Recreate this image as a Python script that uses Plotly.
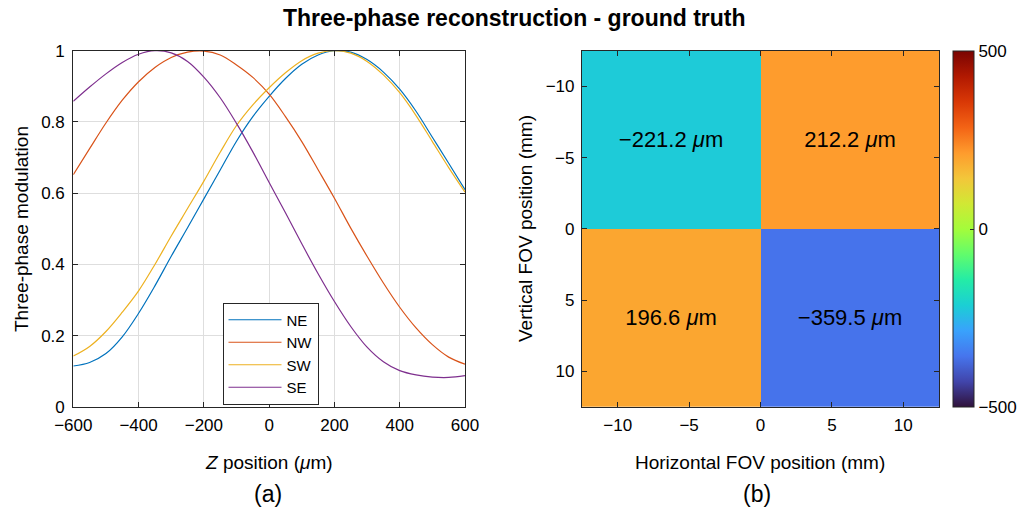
import plotly.graph_objects as go

# ---------------- data ----------------
z_pos = [-600, -550, -500, -450, -400, -350, -300, -250, -200, -150, -100, -50,
         0, 50, 100, 150, 200, 250, 300, 350, 400, 450, 500, 550, 600]

ne = [0.115, 0.125, 0.150, 0.197, 0.263, 0.340, 0.423, 0.503, 0.584, 0.665, 0.746, 0.815,
      0.872, 0.922, 0.962, 0.988, 1.000, 0.996, 0.975, 0.940, 0.892, 0.830, 0.757, 0.684, 0.610]
nw = [0.652, 0.725, 0.797, 0.861, 0.913, 0.953, 0.981, 0.996, 0.999, 0.988, 0.960, 0.925,
      0.878, 0.815, 0.745, 0.666, 0.586, 0.502, 0.423, 0.348, 0.280, 0.222, 0.175, 0.140, 0.120]
sw = [0.143, 0.170, 0.212, 0.266, 0.326, 0.400, 0.480, 0.557, 0.634, 0.715, 0.790, 0.848,
      0.896, 0.938, 0.972, 0.993, 1.000, 0.993, 0.970, 0.932, 0.882, 0.818, 0.745, 0.672, 0.603]
se = [0.858, 0.898, 0.935, 0.967, 0.990, 1.000, 0.994, 0.970, 0.926, 0.868, 0.796, 0.716,
      0.630, 0.545, 0.458, 0.374, 0.296, 0.226, 0.168, 0.127, 0.102, 0.090, 0.084, 0.083, 0.088]

series_names = ["NE", "NW", "SW", "SE"]
series_colors = ["#0072BD", "#D95319", "#EDB120", "#7E2F8E"]

fov_x = [-6.25, 6.25]
fov_y = [-6.25, 6.25]
recon = [[-221.2, 212.2],
         [196.6, -359.5]]

x_ticks_a = [-600, -400, -200, 0, 200, 400, 600]
y_ticks_a = [0, 0.2, 0.4, 0.6, 0.8, 1]
y_ticklabels_a = ["0", "0.2", "0.4", "0.6", "0.8", "1"]
fov_ticks = [-10, -5, 0, 5, 10]
cbar_ticks = [-500, 0, 500]

# ---------------- figure ----------------
W, H = 1019, 512
FONT = "Liberation Sans, Arial, Helvetica, sans-serif"
AX = "#262626"

def px(x):
    return x / W

def py(y):
    return 1 - y / H

fig = go.Figure()

for name, col, vals in zip(series_names, series_colors, [ne, nw, sw, se]):
    fig.add_trace(go.Scatter(
        x=z_pos, y=vals, mode="lines", name=name,
        line=dict(color=col, width=1.2, shape="spline", smoothing=1.0),
        xaxis="x", yaxis="y",
    ))

cell_text = [[("\u2212" if v < 0 else "") + f"{abs(v):.1f} <i>\u03bc</i>m" for v in row] for row in recon]

fig.add_trace(go.Heatmap(
    x=fov_x, y=fov_y, z=recon, text=cell_text, texttemplate="%{text}",
    textfont=dict(size=22, color="black", family=FONT),
    colorscale="Turbo", zmin=-500, zmax=500,
    xaxis="x2", yaxis="y2", showlegend=False, hoverinfo="skip",
    colorbar=dict(
        x=px(953), xanchor="left", xpad=0,
        y=py(229), yanchor="middle", ypad=0,
        len=356 / H, lenmode="fraction",
        thickness=21, thicknessmode="pixels",
        outlinecolor=AX, outlinewidth=1,
        tickvals=cbar_ticks, ticks="inside", ticklen=4, tickcolor=AX,
        tickfont=dict(size=17, family=FONT, color="black"),
    ),
))

axis_common = dict(
    showline=True, linecolor=AX, linewidth=1.2, mirror="ticks",
    ticks="inside", ticklen=5, tickcolor=AX, tickwidth=1,
    tickfont=dict(size=17, family=FONT, color="black"),
    zeroline=False, automargin=False,
)

fig.update_layout(
    width=W, height=H,
    margin=dict(l=0, r=0, t=0, b=0, autoexpand=False),
    paper_bgcolor="white", plot_bgcolor="white",
    font=dict(family=FONT, color="black"),
    xaxis=dict(domain=[px(73.3), px(465)], range=[-600, 600], tickvals=x_ticks_a,
               showgrid=True, gridcolor="#dedede", gridwidth=1, anchor="y",
               ticklabelstandoff=2, **axis_common),
    yaxis=dict(domain=[py(407), py(50.7)], range=[0, 1], tickvals=y_ticks_a,
               ticktext=y_ticklabels_a, ticklabelstandoff=4,
               showgrid=True, gridcolor="#dedede", gridwidth=1, anchor="x", **axis_common),
    xaxis2=dict(domain=[px(582), px(939)], range=[-12.5, 12.5], tickvals=fov_ticks,
                showgrid=False, anchor="y2", ticklabelstandoff=2, **axis_common),
    yaxis2=dict(domain=[py(407), py(50.7)], range=[12.5, -12.5], tickvals=fov_ticks,
                showgrid=False, anchor="x2", ticklabelstandoff=3, **axis_common),
    legend=dict(
        x=px(222.5), y=py(302.5), xanchor="left", yanchor="top",
        bgcolor="white", bordercolor=AX, borderwidth=1,
        font=dict(size=15, family=FONT, color="black"),
        tracegroupgap=0, itemwidth=53,
    ),
    showlegend=True,
)

annos = [
    dict(x=px(514), y=py(18), text="<b>Three-phase reconstruction - ground truth</b>",
         font=dict(size=23)),
    dict(x=px(269), y=py(462), text="<i>Z</i> position (<i>\u03bc</i>m)", font=dict(size=19)),
    dict(x=px(760), y=py(462), text="Horizontal FOV position (mm)", font=dict(size=19)),
    dict(x=px(21), y=py(229), text="Three-phase modulation", font=dict(size=19), textangle=-90),
    dict(x=px(525), y=py(229), text="Vertical FOV position (mm)", font=dict(size=19), textangle=-90),
    dict(x=px(268), y=py(494), text="(a)", font=dict(size=23)),
    dict(x=px(757), y=py(494), text="(b)", font=dict(size=23)),
]
for a in annos:
    fig.add_annotation(xref="paper", yref="paper", showarrow=False,
                       xanchor="center", yanchor="middle", **a)

fig.write_html("out.html")
